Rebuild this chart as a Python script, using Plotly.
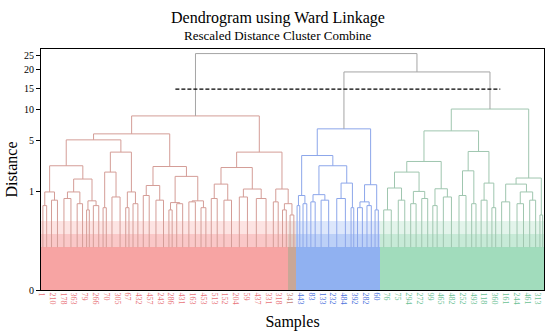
import numpy as np
import plotly.graph_objects as go

TITLE = "Dendrogram using Ward Linkage"
SUBTITLE = "Rescaled Distance Cluster Combine"
X_TITLE = "Samples"
Y_TITLE = "Distance"

# ---- rescaled distance axis (tick distances and their relative axis positions) ----
Y_TICKS = [0, 1, 5, 10, 15, 20, 25]
SCALE_D = [1, 5, 10, 15, 20, 25]
SCALE_P = [1.0, 1.513, 1.827, 2.047, 2.239, 2.384]
LOW_EXPONENT = 0.26
Y_MAX = 27.1

# ---- sample labels (every 10th leaf) ----
SAMPLE_LABELS = ["1", "210", "178", "363", "79", "266", "70", "305", "67", "432",
                 "457", "243", "286", "431", "163", "453", "513", "152", "204", "59",
                 "437", "331", "318", "341", "443", "83", "133", "232", "484", "392",
                 "282", "60", "76", "75", "294", "272", "99", "465", "482", "252",
                 "493", "118", "360", "161", "244", "461", "313"]
LABEL_STEP = 10

# ---- leaf groups (left to right) ----
GROUP_SIZES = [229, 7, 78, 152]
GROUP_RGB = [(247, 164, 163), (201, 167, 151), (144, 177, 241), (161, 220, 188)]
GROUP_LABEL = ["#e8747a", "#c4857a", "#4d72dc", "#6cc195"]

# ---- red cluster: leaf-bundle sizes, bundle merge distances, merge tree ----
RED_SIZES = [7, 11, 13, 10, 5, 10, 6, 15, 6, 9, 11, 14, 6, 11, 12, 9, 11, 14, 15, 18, 9, 7, 7]
RED_TOPS = [0.55, 0.7, 0.75, 0.6, 0.45, 0.55, 0.5, 0.8, 0.5, 0.6, 0.85, 0.7,
            0.45, 0.6, 0.65, 0.5, 0.75, 0.7, 0.8, 0.75, 0.65, 0.45, 0.35]
RED_TREE = (9.03,
            (6.13,
             (5.16,
              (3.03, (0.98, 0, 1), (1.98, (0.98, 2, 3), (0.68, 4, 5))),
              (4.11, (2.53, 6, 7), (0.98, 8, 9))),
             (2.97, (1.47, 10, 11), (2.19, (0.63, 12, 13), (0.68, 14, 15)))),
            (4.11,
             (2.89, (1.58, 16, 17), (1.19, 18, 19)),
             (1.19, 20, (0.6, 21, 22))))

# ---- blue cluster ----
BLUE_SIZES = [5, 7, 8, 14, 16, 5, 9, 8, 6]
BLUE_TOPS = [0.55, 0.6, 0.65, 0.7, 0.75, 0.5, 0.5, 0.55, 0.45]
BLUE_TREE = (6.94,
             (3.84, (0.85, 0, 1), (3.03, (0.88, 2, 3), (1.66, 4, 5))),
             (1.53, (0.65, 6, 7), 8))

# ---- green cluster ----
GREEN_SIZES = [14, 12, 10, 11, 8, 15, 13, 8, 11, 7, 15, 12, 11, 5]
GREEN_TOPS = [0.45, 0.7, 0.6, 0.75, 0.55, 0.8, 0.85, 0.6, 0.7, 0.5, 0.65, 0.6, 0.7, 0.35]
GREEN_TREE = (10.2,
              (6.61,
               (3.37, (2.53, (1.27, 0, 1), (1.0, 2, 3)), (1.21, 4, 5)),
               (4.16, (2.63, 6, 7), (1.66, 8, 9))),
              (2.06, (1.58, 10, (0.98, 11, 12)), 13))

# ---- top-level merges and cut line ----
BLUE_GREEN_MERGE = 19.3
ROOT_MERGE = 25.5
CUT_DISTANCE = 14.8
CUT_FROM_LEAF = 124
CUT_TO_LEAF = 425

RED_LINK = "#d49d97"
BLUE_LINK = "#8ca6ea"
GREEN_LINK = "#9fc6af"
TOP_LINK = "#a5a5a5"
FONT = "Liberation Serif"

BASE_D = 0.04                     # dense leaf fill level
BANDS = [(0.04, 0.11, 0.6), (0.11, 0.26, 0.3)]   # lighter leaf bands (from, to, opacity)


def T(d):
    d = float(d)
    if d <= 1:
        return max(d, 0) ** LOW_EXPONENT
    if d > SCALE_D[-1]:
        slope = (SCALE_P[-1] - SCALE_P[-2]) / (SCALE_D[-1] - SCALE_D[-2])
        return SCALE_P[-1] + (d - SCALE_D[-1]) * slope
    return float(np.interp(d, SCALE_D, SCALE_P))


group_edges = np.cumsum([0] + GROUP_SIZES)


def group_of(i):
    return int(np.searchsorted(group_edges, i, side="right") - 1)


def rgba(rgb, a):
    return "rgba(%d,%d,%d,%.2f)" % (rgb[0], rgb[1], rgb[2], a)


bundles = []   # (i0, n, top)


def build(tree, sizes, tops, start):
    offs = np.cumsum([0] + sizes)
    links = []

    def rec(node):
        if isinstance(node, int):
            i0 = start + int(offs[node])
            n = sizes[node]
            bundles.append((i0, n, tops[node]))
            return i0 + (n - 1) / 2.0, tops[node]
        h, l, r = node
        xl, hl = rec(l)
        xr, hr = rec(r)
        links.append((xl, hl, xr, hr, h))
        return (xl + xr) / 2.0, h

    x, h = rec(tree)
    return links, x, h


red_links, red_x, red_h = build(RED_TREE, RED_SIZES, RED_TOPS, 0)
blue_links, blue_x, blue_h = build(BLUE_TREE, BLUE_SIZES, BLUE_TOPS, sum(RED_SIZES))
green_links, green_x, green_h = build(GREEN_TREE, GREEN_SIZES, GREEN_TOPS,
                                      sum(RED_SIZES) + sum(BLUE_SIZES))
right_x = (blue_x + green_x) / 2.0
top_links = [(blue_x, blue_h, green_x, green_h, BLUE_GREEN_MERGE),
             (red_x, red_h, right_x, BLUE_GREEN_MERGE, ROOT_MERGE)]

fig = go.Figure()

# leaf fills
bx = [i0 + (n - 1) / 2.0 for i0, n, _ in bundles]
bw = [n for _, n, _ in bundles]
bg = [group_of(i0) for i0, _, _ in bundles]
fig.add_trace(go.Bar(x=bx, y=[T(BASE_D)] * len(bx), width=bw,
                     marker=dict(color=[rgba(GROUP_RGB[g], 1) for g in bg], line=dict(width=0)),
                     hoverinfo="skip", showlegend=False))
for lo, hi, op in BANDS:
    fig.add_trace(go.Bar(x=bx, y=[T(hi) - T(lo)] * len(bx), base=T(lo), width=bw,
                         marker=dict(color=[rgba(GROUP_RGB[g], op) for g in bg],
                                     line=dict(width=0)),
                         hoverinfo="skip", showlegend=False))


def link_path(links):
    xs, ys = [], []
    for xl, hl, xr, hr, h in links:
        xs += [xl, xl, xr, xr, None]
        ys += [T(hl), T(h), T(h), T(hr), None]
    return xs, ys


# bundle inner links
inner = {RED_LINK: ([], []), BLUE_LINK: ([], []), GREEN_LINK: ([], [])}
for i0, n, top in bundles:
    g = group_of(i0)
    col = RED_LINK if g <= 1 else (BLUE_LINK if g == 2 else GREEN_LINK)
    xc = i0 + (n - 1) / 2.0
    a, b = xc - n / 4.0, xc + n / 4.0
    xs, ys = inner[col]
    xs += [a, a, b, b, None]
    ys += [T(BASE_D), T(top), T(top), T(BASE_D), None]
for col, (xs, ys) in inner.items():
    fig.add_trace(go.Scatter(x=xs, y=ys, mode="lines", line=dict(color=col, width=1),
                             hoverinfo="skip", showlegend=False))

for links, col in [(red_links, RED_LINK), (blue_links, BLUE_LINK),
                   (green_links, GREEN_LINK), (top_links, TOP_LINK)]:
    xs, ys = link_path(links)
    fig.add_trace(go.Scatter(x=xs, y=ys, mode="lines", line=dict(color=col, width=1),
                             hoverinfo="skip", showlegend=False))

# cut line
fig.add_trace(go.Scatter(x=[CUT_FROM_LEAF, CUT_TO_LEAF], y=[T(CUT_DISTANCE)] * 2,
                         mode="lines", line=dict(color="black", width=1.2, dash="4px,2px"),
                         hoverinfo="skip", showlegend=False))

n_leaves = sum(GROUP_SIZES)
tick_pos = [k * LABEL_STEP for k in range(len(SAMPLE_LABELS))]
tick_txt = ["<span style='color:%s'>%s</span>" % (GROUP_LABEL[group_of(p)], s)
            for p, s in zip(tick_pos, SAMPLE_LABELS)]

fig.update_layout(
    width=550, height=333,
    margin=dict(l=41, r=6, t=49, b=43),
    paper_bgcolor="white", plot_bgcolor="white",
    barmode="overlay", bargap=0,
    font=dict(family=FONT, color="black"),
    showlegend=False,
    xaxis=dict(range=[-0.5, n_leaves - 0.5], tickmode="array", tickvals=tick_pos,
               ticktext=tick_txt, tickangle=90, tickfont=dict(size=8, family=FONT),
               showline=True, linecolor="black", linewidth=1, mirror=True,
               showgrid=False, zeroline=False, ticks="", automargin=False,
               title=dict(text=X_TITLE, font=dict(size=16, family=FONT), standoff=12)),
    yaxis=dict(range=[0, T(Y_MAX)], tickmode="array",
               tickvals=[T(v) for v in Y_TICKS], ticktext=[str(v) for v in Y_TICKS],
               tickfont=dict(size=10, family=FONT), ticks="outside", ticklen=4,
               tickcolor="black", showline=True, linecolor="black", linewidth=1,
               mirror=True, showgrid=False, zeroline=False, automargin=False,
               title=dict(text=Y_TITLE, font=dict(size=16, family=FONT), standoff=2)),
    annotations=[
        dict(text=TITLE, x=0.472, y=1.129, xref="paper", yref="paper", showarrow=False,
             font=dict(size=16, family=FONT), xanchor="center", yanchor="middle"),
        dict(text=SUBTITLE, x=0.472, y=1.054, xref="paper", yref="paper", showarrow=False,
             font=dict(size=13, family=FONT), xanchor="center", yanchor="middle"),
    ],
)

fig.write_html("out.html", config={"displayModeBar": False},
               post_script="document.body.style.margin='0px';")
